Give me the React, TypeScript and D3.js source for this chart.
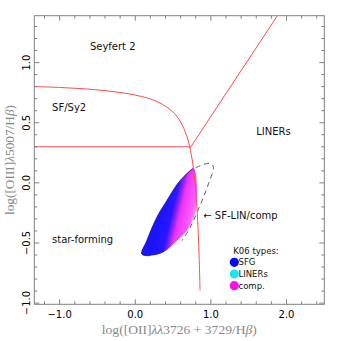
import * as d3 from "d3";

// axis ranges
const xDomain = [-1.335, 2.5];
const yDomain = [-1.01, 1.39];
const xMajor = [-1.0, 0.0, 1.0, 2.0];
const xMinor = [-1.2, -0.8, -0.6, -0.4, -0.2, 0.2, 0.4, 0.6, 0.8, 1.2, 1.4, 1.6, 1.8, 2.2, 2.4];
const yMajor = [-1.0, -0.5, 0.0, 0.5, 1.0];
const yMinor = [-0.9, -0.8, -0.7, -0.6, -0.4, -0.3, -0.2, -0.1, 0.1, 0.2, 0.3, 0.4, 0.6, 0.7, 0.8, 0.9, 1.1, 1.2, 1.3];

// demarcation lines
const sfCurve = [
  [-1.335, 0.801], [-1.0, 0.793], [-0.5, 0.773], [0.0, 0.73], [0.3, 0.673],
  [0.5, 0.588], [0.6, 0.506], [0.68, 0.392], [0.72, 0.3], [0.76, 0.163],
  [0.79, 0.004], [0.81, -0.15], [0.83, -0.372], [0.845, -0.617], [0.857, -0.896],
];
const sy2Line = [[-1.335, 0.3], [0.725, 0.3]];
const linerLine = [[0.725, 0.29], [1.88, 1.39]];
const compBoundary = [
  [0.8, 0.125], [0.902, 0.153], [1.0, 0.16], [1.034, 0.13], [0.968, -0.008],
  [0.902, -0.12], [0.836, -0.217], [0.77, -0.314], [0.703, -0.398], [0.616, -0.481],
];

// galaxy cloud envelope
const cloudEdge = [
  [0.77, 0.122], [0.593, 0.019], [0.417, -0.148], [0.285, -0.287], [0.152, -0.481],
  [0.086, -0.592], [0.196, -0.606], [0.372, -0.578], [0.55, -0.481], [0.682, -0.398],
  [0.792, -0.258], [0.815, -0.148], [0.815, -0.008], [0.792, 0.103],
];

// region labels
const regionLabels = [
  { text: "Seyfert 2", x: -0.6, y: 1.13 },
  { text: "SF/Sy2", x: -1.1, y: 0.63 },
  { text: "LINERs", x: 1.6, y: 0.43 },
  { text: "star-forming", x: -1.1, y: -0.47 },
  { text: "\u2190 SF-LIN/comp", x: 0.9, y: -0.27 },
];

const legendTypes = ["SFG", "LINERs", "comp."];
const legendColors = ["#0a0af5", "#19e6f0", "#f510f0"];

export default function App() {
  const left = 34.3, top = 15.7, right = 324.3, bottom = 304.3;
  const x = d3.scaleLinear().domain(xDomain).range([left, right]);
  const y = d3.scaleLinear().domain(yDomain).range([bottom, top]);
  const line = d3.line<number[]>().x((d) => x(d[0])).y((d) => y(d[1]));
  const smooth = d3.line<number[]>().x((d) => x(d[0])).y((d) => y(d[1])).curve(d3.curveCatmullRom.alpha(0.5));
  const closed = d3.line<number[]>().x((d) => x(d[0])).y((d) => y(d[1])).curve(d3.curveCatmullRomClosed.alpha(0.5));

  const frame = "#808080";
  const red = "#ff4a4a";
  const font = "DejaVu Sans";
  const cloudPath = closed(cloudEdge) ?? "";

  return (
    <svg width={341} height={341} style={{ position: "absolute", left: 0, top: 0, background: "#fff" }}>
      <defs>
        <linearGradient id="cloudGrad" gradientUnits="userSpaceOnUse" x1={163} y1={205} x2={197} y2={213}>
          <stop offset="0" stopColor="#1a14ff" />
          <stop offset="0.3" stopColor="#2a18ff" />
          <stop offset="0.43" stopColor="#9a22f2" />
          <stop offset="0.53" stopColor="#ea34f5" />
          <stop offset="0.85" stopColor="#ff5cff" />
          <stop offset="1" stopColor="#ffa4ff" />
        </linearGradient>
        <clipPath id="plotClip">
          <rect x={left} y={top} width={right - left} height={bottom - top} />
        </clipPath>
      </defs>

      <g clipPath="url(#plotClip)">
        <path d={cloudPath} fill="url(#cloudGrad)" />
        <path d={smooth(cloudEdge.slice(0, 7)) ?? ""} fill="none" stroke="#10104a" strokeWidth={0.7} />
        <path d={smooth(compBoundary) ?? ""} fill="none" stroke="#333" strokeWidth={0.8} strokeDasharray="5,4" />
        <path d={smooth(sfCurve) ?? ""} fill="none" stroke={red} strokeWidth={1} />
        <path d={line(sy2Line) ?? ""} fill="none" stroke={red} strokeWidth={1} />
        <path d={line(linerLine) ?? ""} fill="none" stroke={red} strokeWidth={1} />
      </g>

      {/* frame */}
      <rect x={left} y={top} width={right - left} height={bottom - top} fill="none" stroke={frame} strokeWidth={1} />

      {/* ticks */}
      <g stroke={frame} strokeWidth={1}>
        {xMajor.map((v) => (
          <g key={"xM" + v}>
            <line x1={x(v)} x2={x(v)} y1={bottom} y2={bottom - 5} />
            <line x1={x(v)} x2={x(v)} y1={top} y2={top + 5} />
          </g>
        ))}
        {xMinor.map((v) => (
          <g key={"xm" + v}>
            <line x1={x(v)} x2={x(v)} y1={bottom} y2={bottom - 3} />
            <line x1={x(v)} x2={x(v)} y1={top} y2={top + 3} />
          </g>
        ))}
        {yMajor.map((v) => (
          <g key={"yM" + v}>
            <line x1={left} x2={left + 5} y1={y(v)} y2={y(v)} />
            <line x1={right} x2={right - 5} y1={y(v)} y2={y(v)} />
          </g>
        ))}
        {yMinor.map((v) => (
          <g key={"ym" + v}>
            <line x1={left} x2={left + 3} y1={y(v)} y2={y(v)} />
            <line x1={right} x2={right - 3} y1={y(v)} y2={y(v)} />
          </g>
        ))}
      </g>

      {/* tick labels */}
      <g fontFamily={font} fontSize={10} fill="#000">
        {xMajor.map((v) => (
          <text key={"xl" + v} x={x(v)} y={318} textAnchor="middle">{d3.format(".1f")(v)}</text>
        ))}
        {yMajor.map((v) => (
          <text key={"yl" + v} transform={`translate(30,${y(v)}) rotate(-90)`} textAnchor="middle">{d3.format(".1f")(v)}</text>
        ))}
      </g>

      {/* axis titles */}
      <text x={(left + right) / 2} y={334} textAnchor="middle" fontFamily="Liberation Serif" fontSize={12} fill="#888"
        textLength={155} lengthAdjust="spacingAndGlyphs">
        log([OII]<tspan fontStyle="italic">λλ</tspan>3726 + 3729/H<tspan fontStyle="italic">β</tspan>)
      </text>
      <text transform={`translate(14,${(top + bottom) / 2}) rotate(-90)`} textAnchor="middle" fontFamily="Liberation Serif"
        fontSize={12} fill="#888" textLength={110} lengthAdjust="spacingAndGlyphs">
        log([OIII]<tspan fontStyle="italic">λ</tspan>5007/H<tspan fontStyle="italic">β</tspan>)
      </text>

      {/* region labels */}
      <g fontFamily={font} fontSize={10} fill="#111">
        {regionLabels.map((d) => (
          <text key={d.text} x={x(d.x)} y={y(d.y)} dy="0.35em">{d.text}</text>
        ))}
      </g>

      {/* legend */}
      <g fontFamily={font} fontSize={8.5} fill="#111">
        <text x={233.3} y={250.7} dy="0.35em">K06 types:</text>
        {legendTypes.map((t, i) => (
          <g key={t}>
            <circle cx={234.3} cy={262.3 + i * 11.7} r={4.6} fill={legendColors[i]} />
            <text x={238.5} y={262.3 + i * 11.7} dy="0.35em">{t}</text>
          </g>
        ))}
      </g>
    </svg>
  );
}
